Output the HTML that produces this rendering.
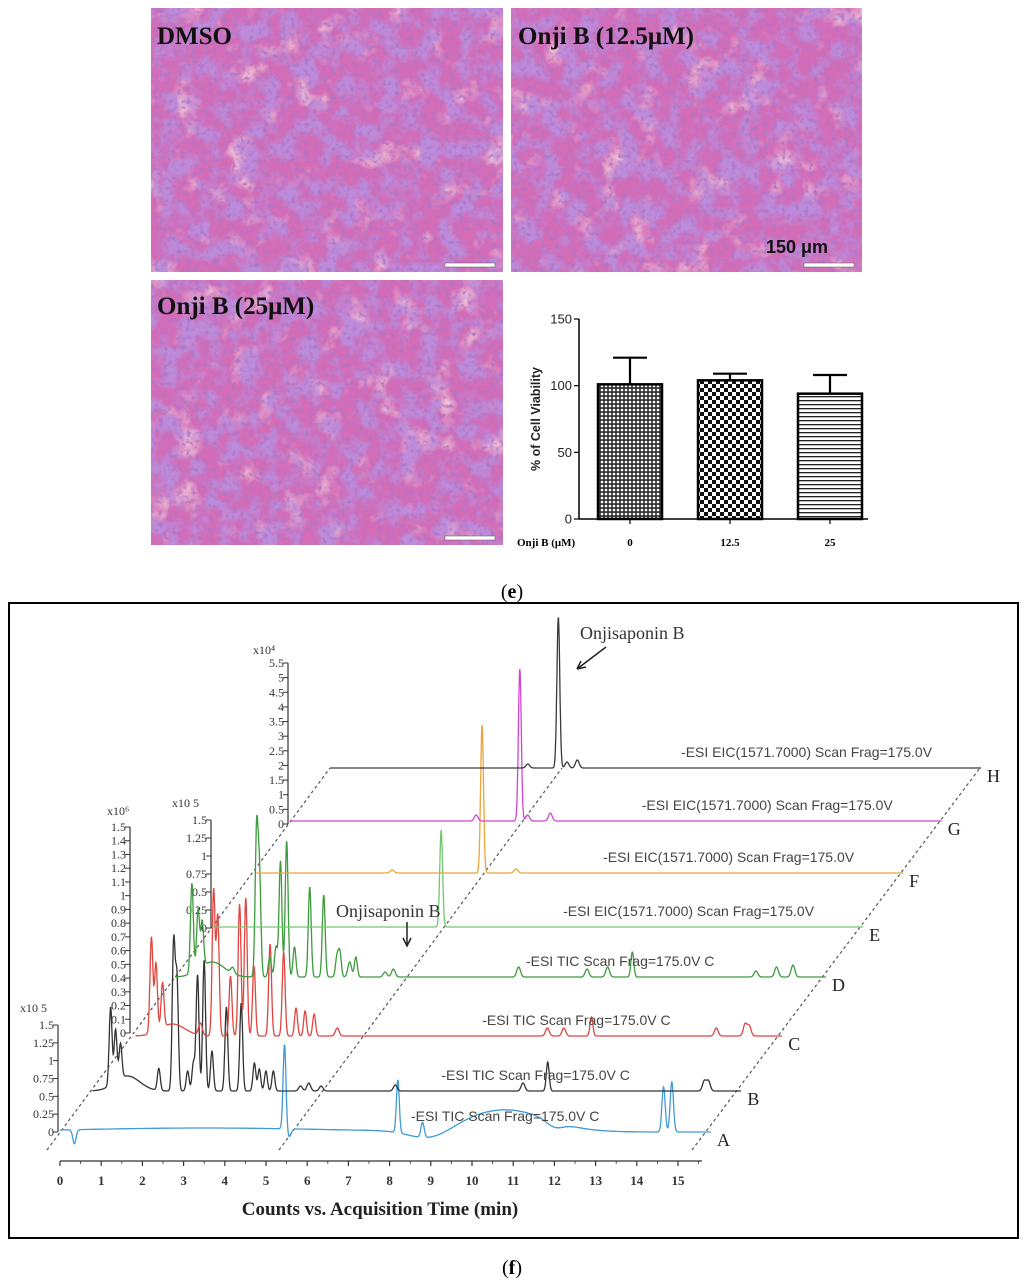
<!DOCTYPE html>
<html><head><meta charset="utf-8">
<style>
html,body{margin:0;padding:0;background:#fff;}
body{width:1024px;height:1287px;overflow:hidden;position:relative;font-family:"Liberation Sans",sans-serif;}
svg{position:absolute;left:0;top:0;}
</style></head>
<body>
<svg id="root" width="1024" height="1287" viewBox="0 0 1024 1287">
<defs>
  <filter id="purp" x="0" y="0" width="100%" height="100%">
    <feTurbulence type="fractalNoise" baseFrequency="0.05" numOctaves="4" seed="3"/>
    <feColorMatrix type="matrix" values="0 0 0 0 0.50  0 0 0 0 0.26  0 0 0 0 0.70  3.6 0 0 0 -1.5"/>
  </filter>
  <filter id="light" x="0" y="0" width="100%" height="100%">
    <feTurbulence type="fractalNoise" baseFrequency="0.035" numOctaves="3" seed="11"/>
    <feColorMatrix type="matrix" values="0 0 0 0 0.95  0 0 0 0 0.72  0 0 0 0 0.74  0 2.6 0 0 -1.45"/>
  </filter>
  <filter id="fine" x="0" y="0" width="100%" height="100%">
    <feTurbulence type="fractalNoise" baseFrequency="0.22" numOctaves="2" seed="7"/>
    <feColorMatrix type="matrix" values="0 0 0 0 0.42  0 0 0 0 0.18  0 0 0 0 0.58  0 0 3.2 0 -1.6"/>
  </filter>
  <pattern id="pat0" width="4" height="4" patternUnits="userSpaceOnUse">
    <rect width="4" height="4" fill="#333"/><circle cx="2" cy="2" r="1.3" fill="#fff"/>
  </pattern>
  <pattern id="pat1" width="8" height="8" patternUnits="userSpaceOnUse">
    <rect width="8" height="8" fill="#fff"/><rect width="4" height="4" fill="#111"/><rect x="4" y="4" width="4" height="4" fill="#111"/>
  </pattern>
  <pattern id="pat2" width="4" height="4" patternUnits="userSpaceOnUse">
    <rect width="4" height="4" fill="#fff"/><rect width="4" height="1.3" fill="#222"/>
  </pattern>
</defs>
<g id="micro"></g>
<g id="bars"></g>
<text x="512" y="598" text-anchor="middle" font-family="Liberation Serif, serif" font-size="20">(<tspan font-weight="bold">e</tspan>)</text>
<rect x="9" y="603" width="1009" height="635" fill="none" stroke="#000" stroke-width="2"/>
<g id="chrom"></g>
<text x="512" y="1274" text-anchor="middle" font-family="Liberation Serif, serif" font-size="20">(<tspan font-weight="bold">f</tspan>)</text>
</svg>
<script>
const NS='http://www.w3.org/2000/svg';
function mk(tag,attrs,parent,txt){const e=document.createElementNS(NS,tag);for(const k in attrs)e.setAttribute(k,attrs[k]);if(txt!==undefined)e.textContent=txt;parent.appendChild(e);return e;}

/* ---------- micrographs ---------- */
const micro=document.getElementById('micro');
const panels=[[151,8,352,264,'DMSO',157,44,'micrograph-dmso'],[511,8,351,264,'Onji B (12.5μM)',518,44,'micrograph-onji-12-5'],[151,280,352,265,'Onji B (25μM)',157,314,'micrograph-onji-25']];
panels.forEach(p=>{
  const g=mk('g',{},micro);
  
  
  mk('rect',{x:p[0],y:p[1],width:p[2],height:p[3],fill:'#d46cb6'},g);
  mk('rect',{x:p[0],y:p[1],width:p[2],height:p[3],filter:'url(#light)'},g);
  mk('rect',{x:p[0],y:p[1],width:p[2],height:p[3],filter:'url(#purp)'},g);
  mk('rect',{x:p[0],y:p[1],width:p[2],height:p[3],filter:'url(#fine)'},g);
  const sb=mk('rect',{x:p[0]+p[2]-58,y:p[1]+p[3]-9,width:50,height:4,fill:'#fff',stroke:'#555','stroke-width':0.5},g);
  
  
  const t=mk('text',{x:p[5],y:p[6],'font-family':'Liberation Serif, serif','font-weight':'bold','font-size':25,fill:'#111'},g,p[4]);
  
  
});
const sbl=mk('text',{x:766,y:253,'font-family':'Liberation Sans, sans-serif','font-weight':'bold','font-size':18,fill:'#111'},micro,'150 μm');



/* ---------- bar chart ---------- */
const barCats=['0','12.5','25'];
const barMeans=[101,104,94];
const barErrTop=[121,109,108];
const barTicks=[0,50,100,150];
const barFills=['url(#pat0)','url(#pat1)','url(#pat2)'];
const bg=document.getElementById('bars');
const bY=v=>519-v*(200/150);
const bX=i=>630+i*100;
const axY=mk('line',{x1:579,y1:bY(150),x2:579,y2:bY(0),stroke:'#000','stroke-width':1.5},bg);


const axX=mk('line',{x1:579,y1:519,x2:868,y2:519,stroke:'#000','stroke-width':1.5},bg);


barTicks.forEach(v=>{
  mk('line',{x1:574,y1:bY(v),x2:579,y2:bY(v),stroke:'#000','stroke-width':1.2},bg);
  const t=mk('text',{x:572,y:bY(v)+4.5,'text-anchor':'end','font-size':13,fill:'#222'},bg,String(v));
  
  
});
barCats.forEach((c,i)=>{
  const x=bX(i);
  const r=mk('rect',{x:x-32,y:bY(barMeans[i]),width:64,height:bY(0)-bY(barMeans[i]),fill:barFills[i],stroke:'#000','stroke-width':2.5},bg);
  
  
  const e=mk('path',{d:`M${x},${bY(barMeans[i])} V${bY(barErrTop[i])} M${x-17},${bY(barErrTop[i])} H${x+17}`,stroke:'#000','stroke-width':2.2,fill:'none'},bg);
  
  
  mk('line',{x1:x,y1:519,x2:x,y2:524,stroke:'#000','stroke-width':1.2},bg);
  const t=mk('text',{x:x,y:546,'text-anchor':'middle','font-family':'Liberation Serif, serif','font-weight':'bold','font-size':11},bg,c);
  
  
});
const bxt=mk('text',{x:517,y:546,'font-family':'Liberation Serif, serif','font-weight':'bold','font-size':11},bg,'Onji B (μM)');


const byt=mk('text',{x:0,y:0,transform:'translate(540,419) rotate(-90)','text-anchor':'middle','font-weight':'bold','font-size':12.5,fill:'#222'},bg,'% of Cell Viability');



/* ---------- chromatogram data ---------- */
const traceNames=['A','B','C','D','E','F','G','H'];
const traceBaseY=[1132,1091,1036,977,927,873,821,768];
const traceColors=['#3f9ad6','#333333','#e04540','#3d9a3d','#72c672','#e8a53a','#d245d2','#3a3a3a'];
const traceStart=[0,0.05,0.1,0,0,0.1,0,0];
const traceEnd=15.8;
const aTimes=[0.35,3.5,5.45,5.56,8.2,8.8,9.0,10.8,12.0,14.65,14.85];
const aHeights=[-14,4,85,-8,53,15,-10,22,-6,45,50];
const aWidths=[0.04,3,0.035,0.05,0.035,0.04,0.5,1.0,0.2,0.04,0.04];
const bTimes=[0.49,0.61,0.73,0.9,1.66,2.02,2.1,2.36,2.5,2.6,2.76,2.95,3.3,3.66,3.98,4.1,4.26,4.44,5.1,5.3,5.6,7.4,10.5,11.1,14.9,15.0];
const bHeights=[78,52,35,15,22,147,110,20,28,116,131,40,84,88,28,22,20,20,5,8,5,6,8,29,10,10];
const cTimes=[0.49,0.6,0.76,1.0,1.68,2.0,2.1,2.41,2.63,2.78,2.98,3.37,3.7,4.0,4.22,4.44,5.0,10.1,10.5,11.17,14.2,14.9,15.0];
const cHeights=[96,68,45,12,12,146,120,60,132,138,70,92,84,28,25,22,8,8,8,19,8,12,10];
const dTimes=[0.41,0.56,0.66,0.9,1.4,1.98,2.05,2.3,2.45,2.56,2.71,2.9,3.27,3.61,3.93,4.0,4.24,4.39,5.1,5.3,8.34,10.0,10.5,11.1,14.1,14.6,15.0];
const dHeights=[90,60,45,15,6,145,100,20,30,116,136,30,90,82,20,25,15,20,5,8,10,8,10,25,6,10,12];
const eTimes=[5.56];
const eHeights=[97];
const fTimes=[3.4,5.58,6.4];
const fHeights=[3,148,4];
const gTimes=[4.5,5.56,5.75,6.3];
const gHeights=[6,152,6,8];
const hTimes=[4.8,5.54,5.75,6.0];
const hHeights=[4,151,6,8];
const allTimes=[aTimes,bTimes,cTimes,dTimes,eTimes,fTimes,gTimes,hTimes];
const allHeights=[aHeights,bHeights,cHeights,dHeights,eHeights,fHeights,gHeights,hHeights];
const traceLabels=['-ESI TIC Scan Frag=175.0V C','-ESI TIC Scan Frag=175.0V C','-ESI TIC Scan Frag=175.0V C','-ESI TIC Scan Frag=175.0V C','-ESI EIC(1571.7000) Scan Frag=175.0V','-ESI EIC(1571.7000) Scan Frag=175.0V','-ESI EIC(1571.7000) Scan Frag=175.0V','-ESI EIC(1571.7000) Scan Frag=175.0V'];
const xTicks=[0,1,2,3,4,5,6,7,8,9,10,11,12,13,14,15];

/* ---------- chromatogram drawing ---------- */
const cg=document.getElementById('chrom');
const PXMIN=41.2, SKEW=0.742;
const traceX0=i=>60+(traceBaseY[0]-traceBaseY[i])*SKEW;
const tx=(i,t)=>traceX0(i)+t*PXMIN;
const ty=(i,h)=>traceBaseY[i]-h;
const SERIF='Liberation Serif, serif';

[[47,1150,330,768],[279,1150,562,768],[692,1150,980,768]].forEach(d=>{
  const l=mk('line',{x1:d[0],y1:d[1],x2:d[2],y2:d[3],stroke:'#555','stroke-width':1.2,'stroke-dasharray':'3,3'},cg);
  
  
});

function yAxis(x,y0,y1,vals,maxv,lab,lx,ly,name){
  const g=mk('g',{},cg);
  
  
  mk('line',{x1:x,y1:y0,x2:x,y2:y1,stroke:'#333','stroke-width':1.2},g);
  vals.forEach(v=>{
    const y=y0-(y0-y1)*v/maxv;
    mk('line',{x1:x-5,y1:y,x2:x,y2:y,stroke:'#333','stroke-width':1},g);
    mk('text',{x:x-4,y:y+4,'text-anchor':'end','font-family':SERIF,'font-size':12,fill:'#333'},g,String(v));
  });
  mk('text',{x:lx,y:ly,'font-family':SERIF,'font-size':12,fill:'#333'},g,lab);
}
yAxis(58,1132,1025,[0,0.25,0.5,0.75,1,1.25,1.5],1.5,'x10 5',20,1012,'y-axis-trace-a');
yAxis(130,1033,827,[0,0.1,0.2,0.3,0.4,0.5,0.6,0.7,0.8,0.9,1,1.1,1.2,1.3,1.4,1.5],1.5,'x10⁶',107,815,'y-axis-trace-c');
yAxis(211,928,820,[0,0.25,0.5,0.75,1,1.25,1.5],1.5,'x10 5',172,807,'y-axis-trace-d');
yAxis(288,824,663,[0,0.5,1,1.5,2,2.5,3,3.5,4,4.5,5,5.5],5.5,'x10⁴',253,654,'y-axis-trace-g');

allTimes.forEach((times,i)=>{
  const hs=allHeights[i];
  const ws=i===0?aWidths:null;
  let d='';
  for(let t=traceStart[i];t<=traceEnd;t+=0.008){
    let h=0;
    for(let k=0;k<times.length;k++){
      let w=ws?ws[k]:(hs[k]<16?0.045:0.035);
      if(!ws&&(times[k]===0.9||times[k]===1.0)) w=0.3;
      const z=(t-times[k])/w;
      if(Math.abs(z)<6) h+=hs[k]*Math.exp(-0.5*z*z);
    }
    d+=(d?'L':'M')+tx(i,t).toFixed(1)+','+ty(i,h).toFixed(1);
  }
  const p=mk('path',{d:d,fill:'none',stroke:traceColors[i],'stroke-width':1.3},cg);
  
  
  const endX=tx(i,traceEnd);
  const lab=mk('text',{x:endX-300,y:traceBaseY[i]-11,'font-size':14,fill:'#444'},cg,traceLabels[i]);
  
  
  const L=mk('text',{x:endX+6,y:traceBaseY[i]+14,'font-family':SERIF,'font-size':18,fill:'#222'},cg,traceNames[i]);
  
  
});

const xa=mk('g',{},cg);


mk('line',{x1:60,y1:1161,x2:702,y2:1161,stroke:'#333','stroke-width':1.3},xa);
xTicks.forEach(v=>{
  const x=60+v*PXMIN;
  mk('line',{x1:x,y1:1161,x2:x,y2:1166,stroke:'#333','stroke-width':1.2},xa);
  mk('line',{x1:x+PXMIN/2,y1:1161,x2:x+PXMIN/2,y2:1164,stroke:'#333','stroke-width':0.8},xa);
  mk('text',{x:x,y:1185,'text-anchor':'middle','font-family':SERIF,'font-weight':'bold','font-size':13,fill:'#333'},xa,String(v));
});
const xt=mk('text',{x:380,y:1215,'text-anchor':'middle','font-family':SERIF,'font-weight':'bold','font-size':19,fill:'#222'},cg,'Counts vs. Acquisition Time (min)');



const a1=mk('text',{x:580,y:639,'font-family':SERIF,'font-size':18,fill:'#333'},cg,'Onjisaponin B');


mk('path',{d:'M606,647 L577,669 M577,669 l4,-8 M577,669 l9,-2',stroke:'#222','stroke-width':1.5,fill:'none'},cg);
const a2=mk('text',{x:336,y:917,'font-family':SERIF,'font-size':18,fill:'#333'},cg,'Onjisaponin B');


mk('path',{d:'M407,922 V945 M403,938 L407,946 L411,938',stroke:'#222','stroke-width':1.5,fill:'none'},cg);
</script>
</body></html>
